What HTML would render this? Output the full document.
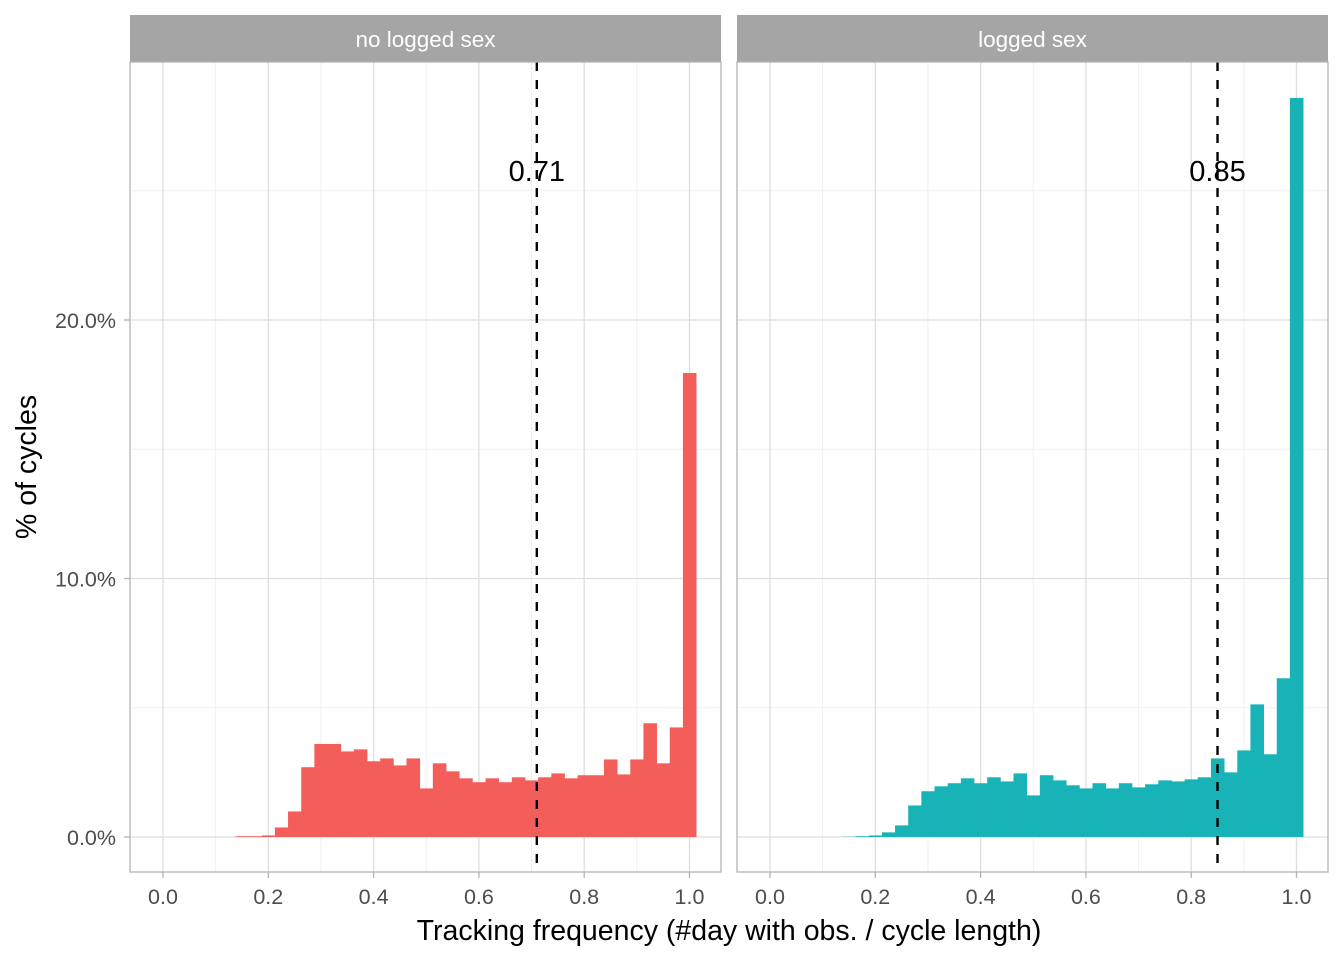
<!DOCTYPE html>
<html><head><meta charset="utf-8"><style>
body{margin:0;background:#fff;}
svg{display:block;font-family:"Liberation Sans",Arial,sans-serif;}
</style></head><body>
<svg id="chart" width="1344" height="960" viewBox="0 0 1344 960" xmlns="http://www.w3.org/2000/svg">
<g id="root"></g>
</svg>
<script>
const centers = [0.15,0.175,0.2,0.225,0.25,0.275,0.3,0.325,0.35,0.375,0.4,0.425,0.45,0.475,0.5,0.525,0.55,0.575,0.6,0.625,0.65,0.675,0.7,0.725,0.75,0.775,0.8,0.825,0.85,0.875,0.9,0.925,0.95,0.975,1.0];
const noSexValues = [0.03,0.03,0.06,0.37,0.99,2.70,3.60,3.60,3.31,3.39,2.93,3.04,2.77,3.04,1.88,2.85,2.54,2.27,2.12,2.27,2.12,2.31,2.19,2.31,2.46,2.27,2.39,2.39,3.0,2.42,3.0,4.40,2.85,4.24,17.95];
const sexValues = [0.01,0.03,0.06,0.18,0.45,1.22,1.77,1.96,2.08,2.27,2.08,2.31,2.15,2.46,1.61,2.39,2.19,2.0,1.88,2.08,1.88,2.08,1.92,2.04,2.19,2.15,2.23,2.31,3.04,2.50,3.35,5.13,3.20,6.14,28.59];
const panelNames = ["no logged sex","logged sex"];
const medians = [0.71,0.85];
const xTicks = [0,0.2,0.4,0.6,0.8,1.0];
const xTickLabels = ["0.0","0.2","0.4","0.6","0.8","1.0"];
const yTicks = [0,10,20];
const yTickLabels = ["0.0%","10.0%","20.0%"];
const binWidth = 0.025;

const NS="http://www.w3.org/2000/svg";
const root=document.getElementById('root');
function mk(tag,attrs,parent){const e=document.createElementNS(NS,tag);for(const k in attrs)e.setAttribute(k,attrs[k]);(parent||root).appendChild(e);return e;}
const yScale=v=>837-v*25.85;
const panels=[{left:130,right:721,x0:163,fill:'#F35E5A',vals:noSexValues},{left:737,right:1328,x0:770,fill:'#17B3B7',vals:sexValues}];
const plotTop=62,plotBottom=872;
panels.forEach((p,i)=>{
  const xs=v=>p.x0+v*526.5;
  const g=mk('g',{});
  
  
  const s=mk('rect',{x:p.left,y:15,width:p.right-p.left,height:47,fill:'#a5a5a5'},g);
  
  
  const st=mk('text',{x:(p.left+p.right)/2,y:47,'text-anchor':'middle','font-size':'22.5',fill:'#fff'},g);
  st.textContent=panelNames[i];
  
  
  [0.1,0.3,0.5,0.7,0.9].forEach(v=>{const l=mk('line',{x1:xs(v),x2:xs(v),y1:plotTop,y2:plotBottom,stroke:'#f0f0f0','stroke-width':1},g);});
  [5,15,25].forEach(v=>{const l=mk('line',{x1:p.left,x2:p.right,y1:yScale(v),y2:yScale(v),stroke:'#f0f0f0','stroke-width':1},g);});
  xTicks.forEach(v=>{const l=mk('line',{x1:xs(v),x2:xs(v),y1:plotTop,y2:plotBottom,stroke:'#dedede','stroke-width':1.3},g);});
  yTicks.forEach(v=>{const l=mk('line',{x1:p.left,x2:p.right,y1:yScale(v),y2:yScale(v),stroke:'#dedede','stroke-width':1.3},g);});
  p.vals.forEach((v,j)=>{
    const x1=xs(centers[j]-binWidth/2),x2=xs(centers[j]+binWidth/2);
    const r=mk('rect',{x:x1,y:yScale(v),width:x2-x1+0.4,height:yScale(0)-yScale(v),fill:p.fill},g);
    
    
  });
  const ml=mk('line',{x1:xs(medians[i]),x2:xs(medians[i]),y1:plotTop,y2:plotBottom,stroke:'#000','stroke-width':2.4,'stroke-dasharray':'9,9'},g);
  
  
  const mt=mk('text',{x:xs(medians[i]),y:181,'text-anchor':'middle','font-size':'29',fill:'#000'},g);
  mt.textContent=medians[i].toFixed(2);
  
  
  const b=mk('rect',{x:p.left,y:plotTop,width:p.right-p.left,height:plotBottom-plotTop,fill:'none',stroke:'#b3b3b3','stroke-width':1.3},g);
  
  
  xTicks.forEach((v,k)=>{
    const t=mk('line',{x1:xs(v),x2:xs(v),y1:plotBottom,y2:plotBottom+6,stroke:'#b3b3b3','stroke-width':1.3},g);
    
    
    const tl=mk('text',{x:xs(v),y:904,'text-anchor':'middle','font-size':'21.5',fill:'#4d4d4d'},g);
    tl.textContent=xTickLabels[k];
    
    
  });
});
yTicks.forEach((v,k)=>{
  const t=mk('line',{x1:124,x2:130,y1:yScale(v),y2:yScale(v),stroke:'#b3b3b3','stroke-width':1.3});
  
  
  const tl=mk('text',{x:116,y:yScale(v)+8,'text-anchor':'end','font-size':'21.5',fill:'#4d4d4d'});
  tl.textContent=yTickLabels[k];
  
  
});
const yt=mk('text',{x:0,y:0,'text-anchor':'middle','font-size':'28.5',fill:'#000',transform:'translate(36,467) rotate(-90)'});
yt.textContent='% of cycles';


const xt=mk('text',{x:729,y:940,'text-anchor':'middle','font-size':'28.5',fill:'#000'});
xt.textContent='Tracking frequency (#day with obs. / cycle length)';


</script>
</body></html>
